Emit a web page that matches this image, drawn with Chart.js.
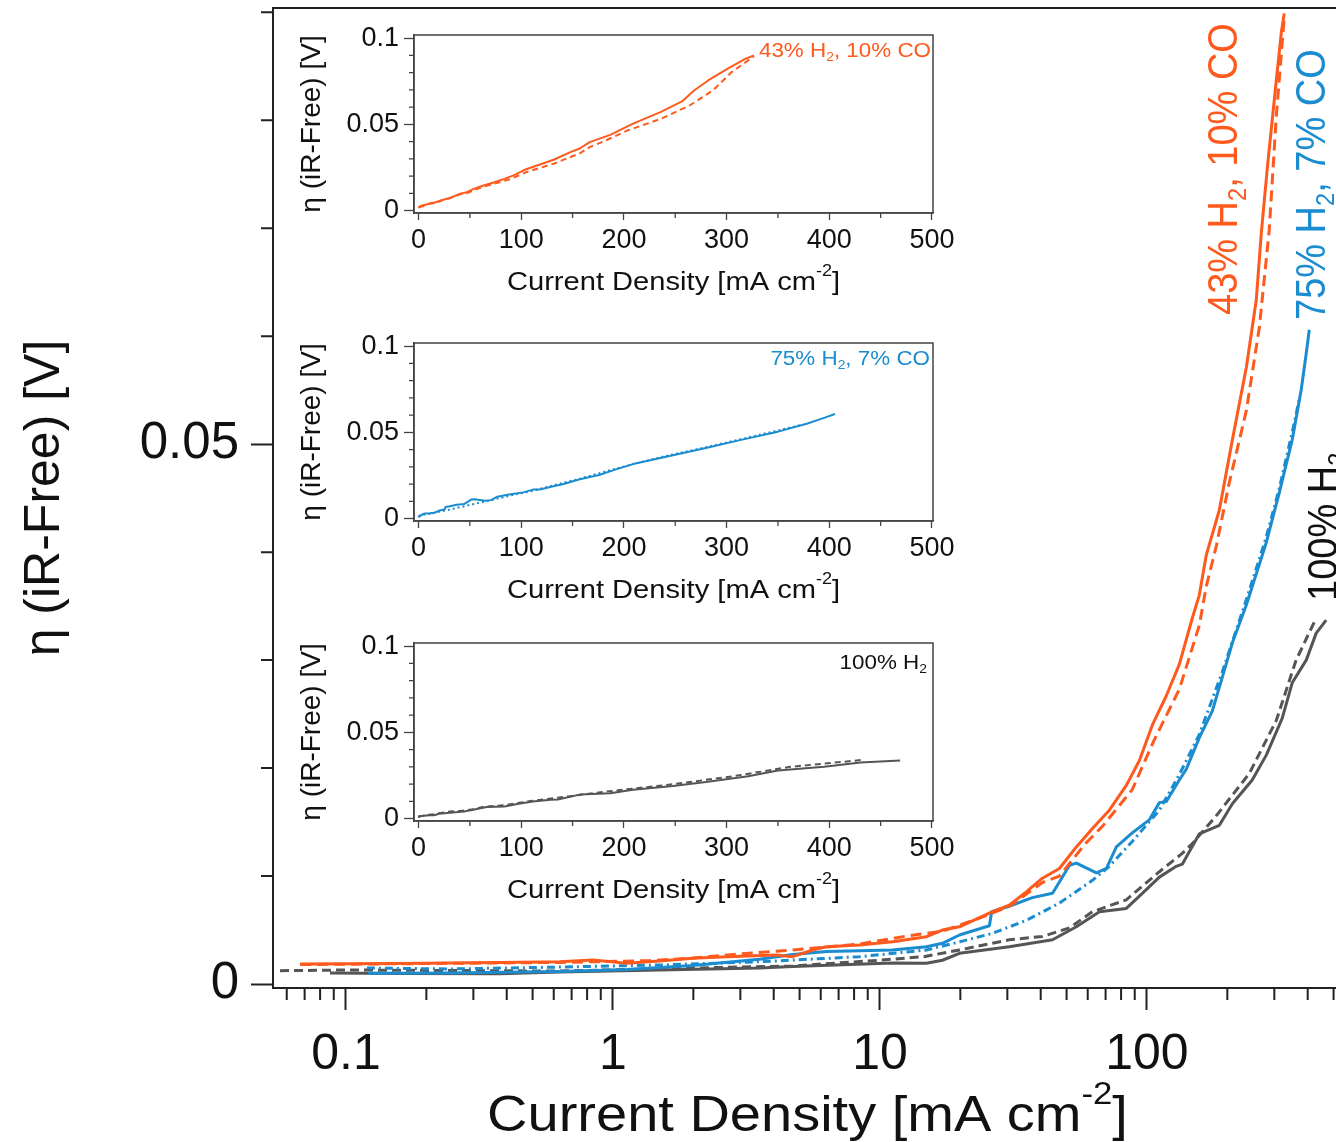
<!DOCTYPE html>
<html>
<head>
<meta charset="utf-8">
<script src="https://cdn.jsdelivr.net/npm/chart.js@4.4.1/dist/chart.umd.min.js"></script>
<style>
  html, body { margin: 0; padding: 0; background: #ffffff; }
  #wrap { position: relative; width: 1336px; height: 1142px; overflow: hidden; background: #ffffff; }
  #wrap canvas { position: absolute; }
</style>
</head>
<body>
<div id="wrap">
  <canvas id="main" width="1336" height="1142" style="left:0;top:0;width:1336px;height:1142px"></canvas>
  <canvas id="inset1" width="700" height="300" style="left:270px;top:5px;width:700px;height:300px"></canvas>
  <canvas id="inset2" width="700" height="300" style="left:270px;top:313px;width:700px;height:300px"></canvas>
  <canvas id="inset3" width="700" height="300" style="left:270px;top:613px;width:700px;height:300px"></canvas>
</div>
<script>
// ---- Polarisation data: current density j [mA cm^-2] and iR-free overpotential eta [V] ----
// 43% H2, 10% CO
const orangeSolidJ   = [0.0673, 0.159, 0.377, 0.632, 0.84, 1.127, 1.497, 1.99, 2.67, 4.10, 4.71, 5.59, 6.31, 8.39, 11.15, 14.94, 17.14, 19.85, 26.4, 30.5, 35.4, 40.6, 47.0, 54.4, 62.5, 72.3, 83.7, 93.7, 104.8, 118.2, 132.2, 147.9, 157, 166.7, 186.7, 208.9, 235.6, 256.6, 268, 282.4, 299.9, 318.5, 326.7];
const orangeSolidEta = [0.00185, 0.0019, 0.0020, 0.00206, 0.00222, 0.00192, 0.00213, 0.00238, 0.00253, 0.00269, 0.00253, 0.00315, 0.00345, 0.00361, 0.00392, 0.00438, 0.0050, 0.0053, 0.0067, 0.0073, 0.00855, 0.0098, 0.0107, 0.0127, 0.0144, 0.0161, 0.0184, 0.0207, 0.0240, 0.0267, 0.0296, 0.0339, 0.0360, 0.0397, 0.0439, 0.0504, 0.0571, 0.0633, 0.0695, 0.0756, 0.0819, 0.0881, 0.0899];
const orangeDashJ    = [0.0673, 0.632, 1.374, 1.99, 2.93, 4.32, 6.31, 8.39, 12.58, 17.14, 23.6, 30.5, 40.6, 47.0, 59.3, 68.1, 88.1, 106, 132.2, 157, 166.7, 182, 203.3, 235.6, 263.6, 287, 305, 326.7];
const orangeDashEta  = [0.0018, 0.0020, 0.00216, 0.0024, 0.00278, 0.00308, 0.00343, 0.0037, 0.00444, 0.0049, 0.0061, 0.0072, 0.0094, 0.0100, 0.0131, 0.0146, 0.0180, 0.0225, 0.0273, 0.0332, 0.0368, 0.0406, 0.0464, 0.0531, 0.0608, 0.0698, 0.0803, 0.0895];
// 75% H2, 7% CO
const blueSolidJ     = [0.1209, 0.245, 0.632, 1.127, 1.99, 3.54, 4.71, 6.31, 11.15, 14.94, 17.14, 19.85, 25.7, 26.2, 30.5, 37.2, 44.3, 51.3, 54.4, 64.7, 70.5, 76.8, 88.1, 102, 111.3, 118.2, 132.2, 140.4, 157, 175.8, 191.5, 208.9, 235.6, 279.9, 313, 350, 378, 395, 405.5];
const blueSolidEta   = [0.00099, 0.00102, 0.00116, 0.00134, 0.00171, 0.0023, 0.00273, 0.0030, 0.00315, 0.00345, 0.00377, 0.00454, 0.0054, 0.0067, 0.0072, 0.0080, 0.0084, 0.0110, 0.0112, 0.0103, 0.0107, 0.0127, 0.0140, 0.0152, 0.0168, 0.0169, 0.0189, 0.0199, 0.0228, 0.0253, 0.0284, 0.0316, 0.0351, 0.0409, 0.0455, 0.0504, 0.0550, 0.0584, 0.0606];
const blueDashJ      = [0.1198, 0.245, 0.632, 1.497, 3.54, 8.39, 14.94, 19.85, 26.4, 35.4, 47.0, 62.5, 72.3, 88.1, 111.3, 132.2, 157, 191.5, 235.6, 279.9, 313, 350, 371.5];
const blueDashEta    = [0.00148, 0.00139, 0.00157, 0.00176, 0.00206, 0.00253, 0.00315, 0.0039, 0.0047, 0.0059, 0.0075, 0.0096, 0.0109, 0.0132, 0.0161, 0.0194, 0.0231, 0.0289, 0.0356, 0.0414, 0.0459, 0.0511, 0.0541];
// 100% H2
const graySolidJ     = [0.0871, 0.159, 0.377, 0.632, 1.497, 3.54, 4.71, 11.15, 14.94, 17.14, 19.85, 30.5, 44.3, 54.4, 66.4, 83.7, 96.1, 111.3, 128.8, 135.6, 157, 186.7, 208.9, 247.9, 279.9, 321, 350, 395, 430.5, 469];
const graySolidEta   = [0.00102, 0.00097, 0.00095, 0.00111, 0.0013, 0.00148, 0.00162, 0.00194, 0.00192, 0.0022, 0.00284, 0.00345, 0.0041, 0.0053, 0.0067, 0.0070, 0.0084, 0.0099, 0.0109, 0.0111, 0.0139, 0.0147, 0.0167, 0.0189, 0.0212, 0.0246, 0.0279, 0.0300, 0.0325, 0.0337];
const grayDashJ      = [0.0566, 0.1009, 0.245, 0.632, 1.99, 4.71, 9.97, 14.6, 19.85, 30.5, 40.6, 51.3, 62.5, 83.7, 111.3, 135.6, 147.9, 182, 241.7, 305, 362, 430.5];
const grayDashEta    = [0.00123, 0.0013, 0.00125, 0.0012, 0.00148, 0.00167, 0.0022, 0.00253, 0.00315, 0.0041, 0.0044, 0.0052, 0.0067, 0.0078, 0.0104, 0.0121, 0.0130, 0.0156, 0.0195, 0.0244, 0.0300, 0.0339];

// ---- Tick values and labels ----
const mainXTicks      = [0.1, 1, 10, 100];
const mainXTickLabels = ['0.1', '1', '10', '100'];
const mainYTicks      = [0, 0.05];
const mainYTickLabels = ['0', '0.05'];
const mainYMinor      = [0.01, 0.02, 0.03, 0.04, 0.06, 0.07, 0.08, 0.09];
const insetXTicks      = [0, 100, 200, 300, 400, 500];
const insetXTickLabels = ['0', '100', '200', '300', '400', '500'];
const insetXMinor      = [50, 150, 250, 350, 450];
const insetYTicks      = [0, 0.05, 0.1];
const insetYTickLabels = ['0', '0.05', '0.1'];
const insetYMinor      = [0.01, 0.02, 0.03, 0.04, 0.06, 0.07, 0.08, 0.09];

// ---- Text ----
const yTitle = 'η (iR-Free) [V]';
const xTitleParts = [{ t: 'Current Density [mA cm' }, { t: '-2', sup: true }, { t: ']' }];
const gasLabels = [
  [{ t: '43% H' }, { t: '2', sub: true }, { t: ', 10% CO' }],
  [{ t: '75% H' }, { t: '2', sub: true }, { t: ', 7% CO' }],
  [{ t: '100% H' }, { t: '2', sub: true }]
];

// ---- Styling ----
const FONT = "'Liberation Sans', Arial, Helvetica, sans-serif";
const SX = 1.12;            // slight horizontal widening of drawn captions
const ORANGE = '#ff5a1e';
const BLUE = '#1a8ccf';
const GRAY = '#555555';
const INK = '#111111';

const X_MIN = 0.05329, X_MAX = 510.6;
const Y_MIN = -0.00037, Y_MAX = 0.0904;

// minor ticks of the logarithmic axis: 2..9 times each decade
const mainXMinor = [];
[0.01, 0.1, 1, 10, 100].forEach(d => {
  for (let k = 2; k <= 9; k++) {
    const v = k * d;
    if (v > X_MIN && v < X_MAX) mainXMinor.push(v);
  }
});

function pts(xs, ys) { return xs.map((x, i) => ({ x: x, y: ys[i] })); }

function ds(xs, ys, color, dash, width) {
  return {
    data: pts(xs, ys), borderColor: color, borderWidth: width, borderDash: dash,
    pointRadius: 0, tension: 0, fill: false, borderJoinStyle: 'round', borderCapStyle: 'butt'
  };
}

// fixes the thickness of an axis box so the plot area lands where it should
function fixedBox(size) {
  return s => {
    if (s.isHorizontal()) s.height = size; else s.width = size;
    s.paddingTop = 0; s.paddingBottom = 0; s.paddingLeft = 0; s.paddingRight = 0;
  };
}

// text with sub/superscripts, optionally rotated
function richText(ctx, parts, x, y, o) {
  const size = o.size;
  ctx.save();
  ctx.translate(x, y);
  ctx.scale(o.sx || 1, 1);
  if (o.rotate) ctx.rotate(o.rotate);
  ctx.fillStyle = o.color;
  ctx.textBaseline = 'alphabetic';
  ctx.textAlign = 'left';
  let total = 0;
  const m = parts.map(p => {
    const s = (p.sub || p.sup) ? size * 0.62 : size;
    ctx.font = s + 'px ' + FONT;
    const w = ctx.measureText(p.t).width;
    total += w;
    return { p, s, w };
  });
  let cx = o.align === 'center' ? -total / 2 : (o.align === 'right' ? -total : 0);
  m.forEach(it => {
    ctx.font = it.s + 'px ' + FONT;
    const dy = it.p.sub ? size * 0.2 : (it.p.sup ? -size * 0.55 : 0);
    ctx.fillText(it.p.t, cx, dy);
    cx += it.w;
  });
  ctx.restore();
}

function minorTicks(id, cfg) {
  return {
    id,
    afterDraw(chart) {
      const ctx = chart.ctx, a = chart.chartArea;
      const xs = chart.scales.x, ys = chart.scales.y;
      ctx.save();
      ctx.strokeStyle = cfg.color;
      ctx.lineWidth = cfg.width;
      ctx.beginPath();
      cfg.x.forEach(v => {
        const p = xs.getPixelForValue(v);
        ctx.moveTo(p, a.bottom); ctx.lineTo(p, a.bottom + cfg.xLen);
      });
      cfg.y.forEach(v => {
        const p = ys.getPixelForValue(v);
        ctx.moveTo(a.left - cfg.yLen, p); ctx.lineTo(a.left, p);
      });
      ctx.stroke();
      ctx.restore();
    }
  };
}

function frame(id, full, color, width) {
  return {
    id,
    afterDraw(chart) {
      const ctx = chart.ctx, a = chart.chartArea;
      ctx.save();
      ctx.strokeStyle = color;
      ctx.lineWidth = width;
      ctx.beginPath();
      if (full) {
        ctx.rect(a.left, a.top, a.right - a.left, a.bottom - a.top);
      } else {
        ctx.moveTo(a.left, a.top); ctx.lineTo(a.right, a.top);
      }
      ctx.stroke();
      ctx.restore();
    }
  };
}

function captions(id, fn) {
  return { id, afterDraw(chart) { fn(chart.ctx, chart.chartArea); } };
}

// ---------------- main plot (log current density) ----------------
new Chart(document.getElementById('main'), {
  type: 'line',
  data: {
    datasets: [
      ds(orangeSolidJ, orangeSolidEta, ORANGE, [], 3),
      ds(orangeDashJ, orangeDashEta, ORANGE, [11, 6], 3),
      ds(blueSolidJ, blueSolidEta, BLUE, [], 3),
      ds(blueDashJ, blueDashEta, BLUE, [8, 4, 2, 4], 3),
      ds(graySolidJ, graySolidEta, GRAY, [], 3),
      ds(grayDashJ, grayDashEta, GRAY, [9, 5], 3)
    ]
  },
  options: {
    responsive: false, animation: false, devicePixelRatio: 1,
    layout: { padding: { top: 8, right: 0, bottom: 0, left: 0 }, autoPadding: false },
    plugins: { legend: { display: false }, tooltip: { enabled: false } },
    scales: {
      x: {
        type: 'logarithmic', position: 'bottom', min: X_MIN, max: X_MAX,
        afterFit: fixedBox(154),
        afterBuildTicks: s => { s.ticks = mainXTicks.map(v => ({ value: v })); },
        grid: { drawOnChartArea: false, drawTicks: true, tickLength: 22, tickWidth: 2, tickColor: '#222' },
        border: { display: true, color: '#222', width: 2 },
        ticks: {
          autoSkip: false, maxRotation: 0, minRotation: 0, padding: 15, color: INK,
          font: { family: FONT, size: 50 },
          callback: (v, i) => mainXTickLabels[i]
        }
      },
      y: {
        type: 'linear', position: 'left', min: Y_MIN, max: Y_MAX,
        afterFit: fixedBox(273),
        afterBuildTicks: s => { s.ticks = mainYTicks.map(v => ({ value: v })); },
        grid: { drawOnChartArea: false, drawTicks: true, tickLength: 22, tickWidth: 2, tickColor: '#222' },
        border: { display: true, color: '#222', width: 2 },
        ticks: {
          autoSkip: false, padding: 12, color: INK,
          font: { family: FONT, size: 51 },
          callback: (v, i) => mainYTickLabels[i]
        },
        title: {
          display: true, text: yTitle, color: INK,
          font: { family: FONT, size: 50 }, padding: { top: 15, bottom: 0 }
        }
      }
    }
  },
  plugins: [
    minorTicks('mainMinor', { x: mainXMinor, y: mainYMinor, xLen: 12, yLen: 12, color: '#222', width: 2 }),
    frame('mainFrame', false, '#222', 2),
    captions('mainCaptions', (ctx, a) => {
      richText(ctx, xTitleParts, (a.left + a.right) / 2 + 3, a.bottom + 143, { size: 50, sx: SX, color: INK, align: 'center' });
      richText(ctx, gasLabels[0], 1237, 315, { size: 38, sx: SX, color: ORANGE, rotate: -Math.PI / 2 });
      richText(ctx, gasLabels[1], 1325, 320, { size: 38, sx: SX, color: BLUE, rotate: -Math.PI / 2 });
      richText(ctx, gasLabels[2], 1337, 601, { size: 38, sx: SX, color: INK, rotate: -Math.PI / 2 });
    })
  ]
});

// ---------------- inset plots (linear current density) ----------------
function inset(id, datasets, label, labelColor, labelDx, labelDy) {
  new Chart(document.getElementById(id), {
    type: 'line',
    data: { datasets },
    options: {
      responsive: false, animation: false, devicePixelRatio: 1,
      layout: { padding: { top: 30, right: 37, bottom: 0, left: 0 }, autoPadding: false },
      plugins: { legend: { display: false }, tooltip: { enabled: false } },
      scales: {
        x: {
          type: 'linear', position: 'bottom', min: -4.4, max: 501,
          afterFit: fixedBox(92),
          afterBuildTicks: s => { s.ticks = insetXTicks.map(v => ({ value: v })); },
          grid: { drawOnChartArea: false, drawTicks: true, tickLength: 7, tickWidth: 1.3, tickColor: '#444' },
          border: { display: true, color: '#444', width: 1.5 },
          ticks: {
            autoSkip: false, maxRotation: 0, minRotation: 0, padding: 4, color: INK,
            font: { family: FONT, size: 27 },
            callback: (v, i) => insetXTickLabels[i]
          }
        },
        y: {
          type: 'linear', position: 'left', min: -0.0014, max: 0.1018,
          afterFit: fixedBox(144),
          afterBuildTicks: s => { s.ticks = insetYTicks.map(v => ({ value: v })); },
          grid: { drawOnChartArea: false, drawTicks: true, tickLength: 10, tickWidth: 1.3, tickColor: '#444' },
          border: { display: true, color: '#444', width: 1.5 },
          ticks: {
            autoSkip: false, padding: 5, color: INK,
            font: { family: FONT, size: 27 },
            callback: (v, i) => insetYTickLabels[i]
          },
          title: {
            display: true, text: yTitle, color: INK,
            font: { family: FONT, size: 28 }, padding: { top: 25, bottom: 0 }
          }
        }
      }
    },
    plugins: [
      minorTicks(id + 'Minor', { x: insetXMinor, y: insetYMinor, xLen: 5, yLen: 5, color: '#444', width: 1.3 }),
      frame(id + 'Frame', true, '#444', 1.5),
      captions(id + 'Captions', (ctx, a) => {
        richText(ctx, xTitleParts, (a.left + a.right) / 2, a.bottom + 77, { size: 26, sx: SX, color: INK, align: 'center' });
        richText(ctx, label, a.right - labelDx, a.top + labelDy, { size: 20, sx: SX, color: labelColor, align: 'right' });
      })
    ]
  });
}

inset('inset1', [
  ds(orangeSolidJ, orangeSolidEta, ORANGE, [], 2),
  ds(orangeDashJ, orangeDashEta, ORANGE, [6, 4], 2)
], gasLabels[0], ORANGE, 2, 22);

inset('inset2', [
  ds(blueSolidJ, blueSolidEta, BLUE, [], 2),
  ds(blueDashJ, blueDashEta, BLUE, [2, 3], 2)
], gasLabels[1], BLUE, 3, 22);

inset('inset3', [
  ds(graySolidJ, graySolidEta, GRAY, [], 2),
  ds(grayDashJ, grayDashEta, GRAY, [6, 4], 2)
], gasLabels[2], INK, 6, 26);
</script>
</body>
</html>
